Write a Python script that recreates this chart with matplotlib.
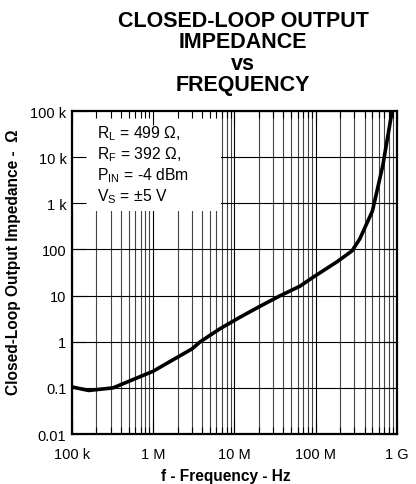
import numpy as np
import matplotlib as mpl
mpl.use("Agg")
import matplotlib.pyplot as plt
from matplotlib.patches import Rectangle

plt.rcParams['font.family'] = ['Liberation Sans', 'DejaVu Sans']
plt.rcParams['mathtext.default'] = 'regular'

# curve
freq_hz = [1.0e5, 1.6e5, 3.2e5, 1.0e6, 3.0e6, 3.8e6, 6.6e6, 1.17e7, 2.0e7,
           3.6e7, 6.4e7, 9.3e7, 1.83e8, 2.8e8, 3.5e8, 5.0e8, 6.7e8, 8.7e8]
impedance_ohm = [0.105, 0.088, 0.1, 0.23, 0.7, 1.0, 1.9, 3.4, 5.7,
                 9.8, 16, 25, 54, 93, 170, 680, 6500, 95000]

x_ticks = [1e5, 1e6, 1e7, 1e8, 1e9]
x_ticklabels = ["100 k", "1 M", "10 M", "100 M", "1 G"]
y_ticks = [1e-2, 1e-1, 1e0, 1e1, 1e2, 1e3, 1e4, 1e5]
y_ticklabels = ["0.01", "0.1", "1", "10", "100", "1 k", "10 k", "100 k"]

conditions = [r"R$_{L}$ = 499 Ω,", r"R$_{F}$ = 392 Ω,",
              r"P$_{IN}$ = -4 dBm", r"V$_{S}$ = ±5 V"]
title_lines = ["CLOSED-LOOP OUTPUT", "IMPEDANCE", "vs", "FREQUENCY"]


def main():
    fig = plt.figure(figsize=(4.16, 4.85), dpi=100)
    ax = fig.add_axes([0.173, 0.103, 0.781, 0.666])
    ax.set_xscale('log')
    ax.set_yscale('log')
    ax.set_xlim(x_ticks[0], x_ticks[-1])
    ax.set_ylim(y_ticks[0], y_ticks[-1])

    # grid drawn by hand so the condition box can hide it but not the ticks
    minor_x = [m * d for d in x_ticks[:-1] for m in range(2, 10)]
    ax.vlines(minor_x, y_ticks[0], y_ticks[-1], color='#444444', lw=0.8, zorder=1)
    ax.vlines(x_ticks, y_ticks[0], y_ticks[-1], color='black', lw=0.8, zorder=1)
    ax.hlines(y_ticks, x_ticks[0], x_ticks[-1], color='black', lw=0.8, zorder=1)
    ax.add_patch(Rectangle((0, 0.69), 0.46, 0.31, transform=ax.transAxes,
                           facecolor='white', edgecolor='none', zorder=1.5))

    ax.plot(freq_hz, impedance_ohm, color='black', lw=2.6, zorder=3,
            solid_capstyle='round', solid_joinstyle='round')

    ax.set_xticks(x_ticks)
    ax.set_xticklabels(x_ticklabels)
    ax.set_yticks(y_ticks)
    ax.set_yticklabels(y_ticklabels)
    ax.minorticks_off()
    ax.set_xticks(minor_x, minor=True)
    ax.tick_params(which='both', direction='in', top=True, right=True,
                   labelsize=10.5, width=0.8)
    ax.tick_params(which='major', length=10)
    ax.tick_params(which='minor', length=5)
    ax.tick_params(axis='x', which='major', pad=9)
    ax.tick_params(axis='y', which='major', pad=4)
    for s in ax.spines.values():
        s.set_linewidth(1.6)

    for i, line in enumerate(conditions):
        ax.text(0.077, 0.932 - i * 0.065, line, transform=ax.transAxes,
                fontsize=11.3, va='center', ha='left', zorder=4)

    ax.set_xlabel("f - Frequency - Hz", fontsize=11.2, fontweight='bold')
    ax.xaxis.set_label_coords(0.474, -0.105)
    ax.set_ylabel("Closed-Loop Output Impedance -  Ω", fontsize=11.2, fontweight='bold')
    ax.yaxis.set_label_coords(-0.157, 0.536)

    baselines = [27, 48, 70, 91]
    for line, yb in zip(title_lines, baselines):
        fig.text(0.584, 1 - yb / 485, line, ha='center', va='baseline',
                 fontsize=15.5, fontweight='bold')

    fig.savefig("out.png", dpi=100)
    plt.close(fig)


if __name__ == "__main__":
    main()
